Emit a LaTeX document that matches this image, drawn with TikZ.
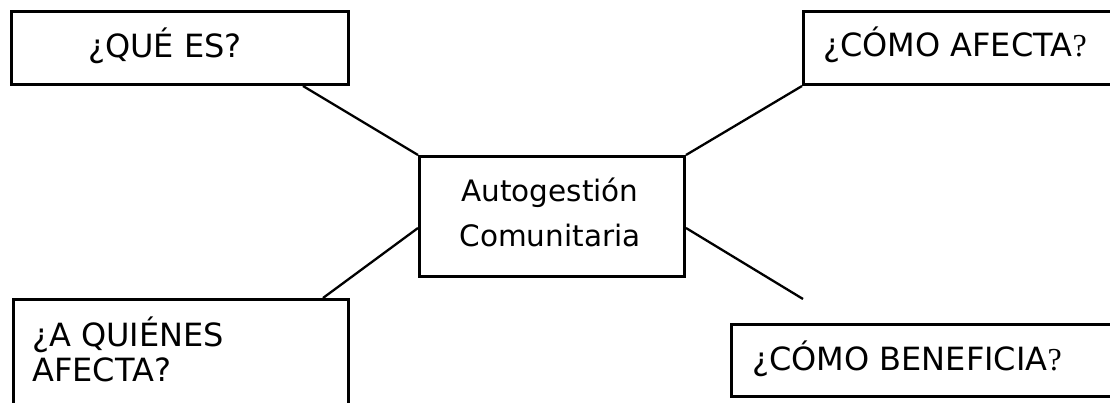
\documentclass[tikz,border=0pt]{standalone}
\usepackage{fontspec}
\setmainfont{DejaVu Sans}
\newfontfamily\qserif{Liberation Serif}
\begin{document}
\begin{tikzpicture}[x=1pt,y=-1pt,
  box/.style={draw=black,line width=3pt,fill=white,inner sep=0pt,anchor=north west},
  conn/.style={draw=black,line width=2.3pt},
  txt/.style={font=\fontsize{32}{35}\selectfont,inner sep=0pt,anchor=base west,text=black},
  ctxt/.style={font=\fontsize{29.5}{45}\selectfont,inner sep=0pt,anchor=base,text=black}]
\useasboundingbox (0,0) rectangle (1110,403);
\clip (0,0) rectangle (1110,403);
% boxes
\node[box,minimum width=337pt,minimum height=73pt] (que) at (10,10) {};
\node[box,minimum width=330pt,minimum height=73pt] (como) at (802,10) {};
\node[box,minimum width=265pt,minimum height=120pt] (centro) at (418,155) {};
\node[box,minimum width=335pt,minimum height=140pt] (quienes) at (12,298) {};
\node[box,minimum width=400pt,minimum height=72pt] (benef) at (730,323) {};
% connectors
\coordinate (freeend) at (803,299);
\draw[conn] ([xshift=-47pt]que.south east) -- (centro.north west);
\draw[conn] (como.south west) -- (centro.north east);
\draw[conn] ([yshift=-73pt]centro.north west) -- ([xshift=311pt]quienes.north west);
\draw[conn] ([yshift=-73pt]centro.north east) -- (freeend);
% texts
\node[txt] (tque) at (88,58) {¿QUÉ ES?};
\node[txt] (tcomo) at (823,57) {¿CÓMO AFECTA{\qserif ?}};
\node[ctxt] (tcentro1) at (550,202) {Autogestión};
\node[ctxt] (tcentro2) at (550,247) {Comunitaria};
\node[txt] (tquienes1) at (32,346) {¿A QUIÉNES};
\node[txt] (tquienes2) at (32,381) {AFECTA?};
\node[txt] (tbenef) at (752,370) {¿CÓMO BENEFICIA{\qserif ?}};
\end{tikzpicture}
\end{document}
